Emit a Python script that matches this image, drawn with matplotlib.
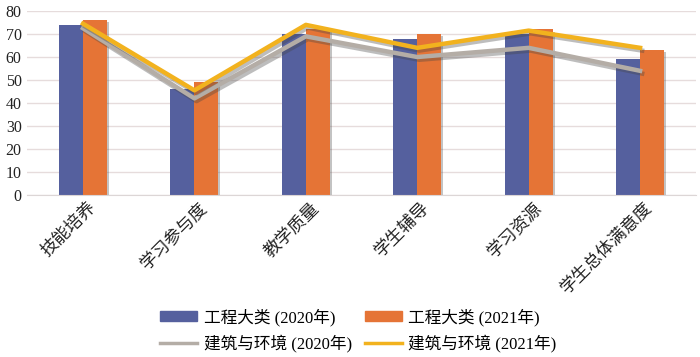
import numpy as np
import matplotlib.pyplot as plt
import matplotlib.patheffects as pe
from matplotlib.lines import Line2D
from matplotlib.patches import Patch
from matplotlib.transforms import ScaledTranslation

plt.rcParams['font.family'] = ['Liberation Serif', 'Noto Sans CJK SC', 'DejaVu Sans']

# data
categories = ['技能培养', '学习参与度', '教学质量', '学生辅导', '学习资源', '学生总体满意度']
eng_2020 = [74, 46, 70, 68, 70, 59]
eng_2021 = [76, 49, 72, 70, 72, 63]
arch_2020 = [72.5, 42, 69, 60, 64, 54]
arch_2021 = [74.5, 45.5, 74, 64, 71.5, 64]
labels = ['工程大类 (2020年)', '工程大类 (2021年)', '建筑与环境 (2020年)', '建筑与环境 (2021年)']
colors = ['#55609E', '#E57436', '#B4ADA6', '#F2B21E']

fig = plt.figure(figsize=(7, 3.57), dpi=100)
ax = fig.add_axes([0.039, 0.454, 0.955, 0.515])

x = np.arange(len(categories))
w = 0.215
shadow_bar = [pe.SimplePatchShadow(offset=(1.5, -1.5), shadow_rgbFace='#555555', alpha=0.35), pe.Normal()]
b1 = ax.bar(x - w / 2, eng_2020, w, color=colors[0], zorder=2)
b2 = ax.bar(x + w / 2, eng_2021, w, color=colors[1], zorder=2)
for b in list(b1) + list(b2):
    b.set_path_effects(shadow_bar)

# lines with a soft drop shadow
shadow_line = [pe.SimpleLineShadow(offset=(1.5, -2), shadow_color='#444444', alpha=0.35), pe.Normal()]
ax.plot(x, arch_2020, color=colors[2], lw=3.2, zorder=3, path_effects=shadow_line)
ax.plot(x, arch_2021, color=colors[3], lw=3.2, zorder=4, path_effects=shadow_line)

ax.set_xlim(-0.5, len(categories) - 0.5)
ax.set_ylim(0, 80)
ax.set_yticks(range(0, 81, 10))
ax.grid(axis='y', color='#E6DCDC', lw=1, zorder=0)
ax.set_axisbelow(True)
for s in ['top', 'right', 'left']:
    ax.spines[s].set_visible(False)
ax.spines['bottom'].set_color('#DCD6D6')
ax.tick_params(axis='both', length=0, labelsize=11.5, colors='#222222')
ax.tick_params(axis='y', pad=4)
ax.set_xticks(x)
ax.set_xticklabels(categories, rotation=45, ha='right', va='top', rotation_mode='anchor', fontsize=12.5)
shift = ScaledTranslation(5 / 100, 0, fig.dpi_scale_trans)
for t in ax.get_xticklabels():
    t.set_transform(t.get_transform() + shift)

# legend: bars on first row, lines on second
handles = [Patch(color=colors[0]), Line2D([], [], color=colors[2], lw=2.5),
           Patch(color=colors[1]), Line2D([], [], color=colors[3], lw=2.5)]
leg_labels = [labels[0], labels[2], labels[1], labels[3]]
fig.legend(handles=handles, labels=leg_labels, ncol=2, loc='center',
           bbox_to_anchor=(0.512, 0.074), frameon=False, fontsize=12, handlelength=2.2,
           handleheight=0.55, columnspacing=0.8, handletextpad=0.4, labelspacing=0.5)

fig.savefig('out.png', dpi=100)
